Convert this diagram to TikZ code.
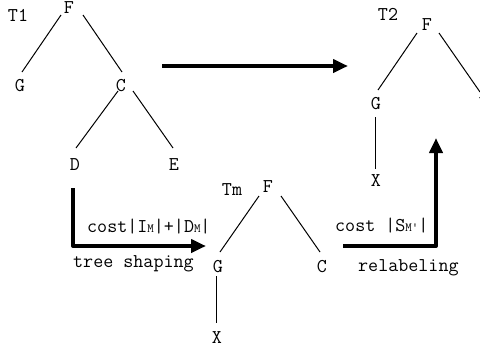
\documentclass[tikz,border=0pt]{standalone}
\usepackage{fontspec}
\usetikzlibrary{arrows.meta}
\begin{document}
\begin{tikzpicture}[x=1pt,y=-1pt,
  lbl/.style={inner sep=0pt,font=\ttfamily\fontsize{19.5}{22}\selectfont},
  edge/.style={line width=1pt},
  bigarrow/.style={line width=4pt,line join=round,-{Triangle[length=15pt,width=13pt]}}]
\useasboundingbox (0,0) rectangle (480,349);
\newcommand{\sm}[1]{{\fontsize{12.5}{13}\selectfont #1}}
% T1
\node[lbl] (lT1) at (18,15) {T1};
\node[lbl] (t1F) at (69,8) {F};
\node[lbl] (t1G) at (20,86) {G};
\node[lbl] (t1C) at (121,86) {C};
\node[lbl] (t1D) at (75,165) {D};
\node[lbl] (t1E) at (174,165) {E};
\draw[edge] ([shift={(-8,7)}]t1F.center) -- ([shift={(2,-14)}]t1G.center);
\draw[edge] ([shift={(14,7)}]t1F.center) -- ([shift={(1,-14)}]t1C.center);
\draw[edge] ([shift={(-3,5)}]t1C.center) -- ([shift={(1,-17)}]t1D.center);
\draw[edge] ([shift={(12,5)}]t1C.center) -- ([shift={(-1,-17)}]t1E.center);
% T2
\node[lbl] (lT2) at (388,14) {T2};
\node[lbl] (t2F) at (427,25) {F};
\node[lbl] (t2G) at (376,104) {G};
\node[lbl] (t2Y) at (484,104) {Y};
\node[lbl] (t2X) at (376,181) {X};
\draw[edge] ([shift={(-10,8)}]t2F.center) -- ([shift={(2,-14)}]t2G.center);
\draw[edge] ([shift={(12,8)}]t2F.center) -- ([shift={(-4,-12)}]t2Y.center);
\draw[edge] ([shift={(-1,13)}]t2G.center) -- ([shift={(-1,-12)}]t2X.center);
% Tm
\node[lbl] (lTm) at (232,190) {Tm};
\node[lbl] (tmF) at (268,187) {F};
\node[lbl] (tmG) at (218,267) {G};
\node[lbl] (tmC) at (322,267) {C};
\node[lbl] (tmX) at (217,338) {X};
\draw[edge] ([shift={(-9,9)}]tmF.center) -- ([shift={(2,-15)}]tmG.center);
\draw[edge] ([shift={(13,9)}]tmF.center) -- ([shift={(-2,-15)}]tmC.center);
\draw[edge] ([shift={(-2,9)}]tmG.center) -- ([shift={(-1,-15)}]tmX.center);
% arrows
\coordinate (a1s) at (162,66);
\coordinate (a1e) at (348,66);
\draw[bigarrow] (a1s) -- (a1e);
\coordinate (la0) at (73,188);
\coordinate (la1) at (206,246);
\draw[bigarrow] (la0) |- (la1);
\coordinate (ra0) at (343,246);
\coordinate (ra1) at (436,138);
\draw[bigarrow] (ra0) -| (ra1);
% labels
\node[lbl,anchor=base west] (c1) at (87,232) {cost|I\sm{M}|+|D\sm{M}|};
\node[lbl,anchor=base west] (ts) at (73,267) {tree shaping};
\node[lbl,anchor=base west] (c2) at (335,231) {cost |S\sm{M'}|};
\node[lbl,anchor=base west] (rl) at (358,271) {relabeling};
\end{tikzpicture}
\end{document}
